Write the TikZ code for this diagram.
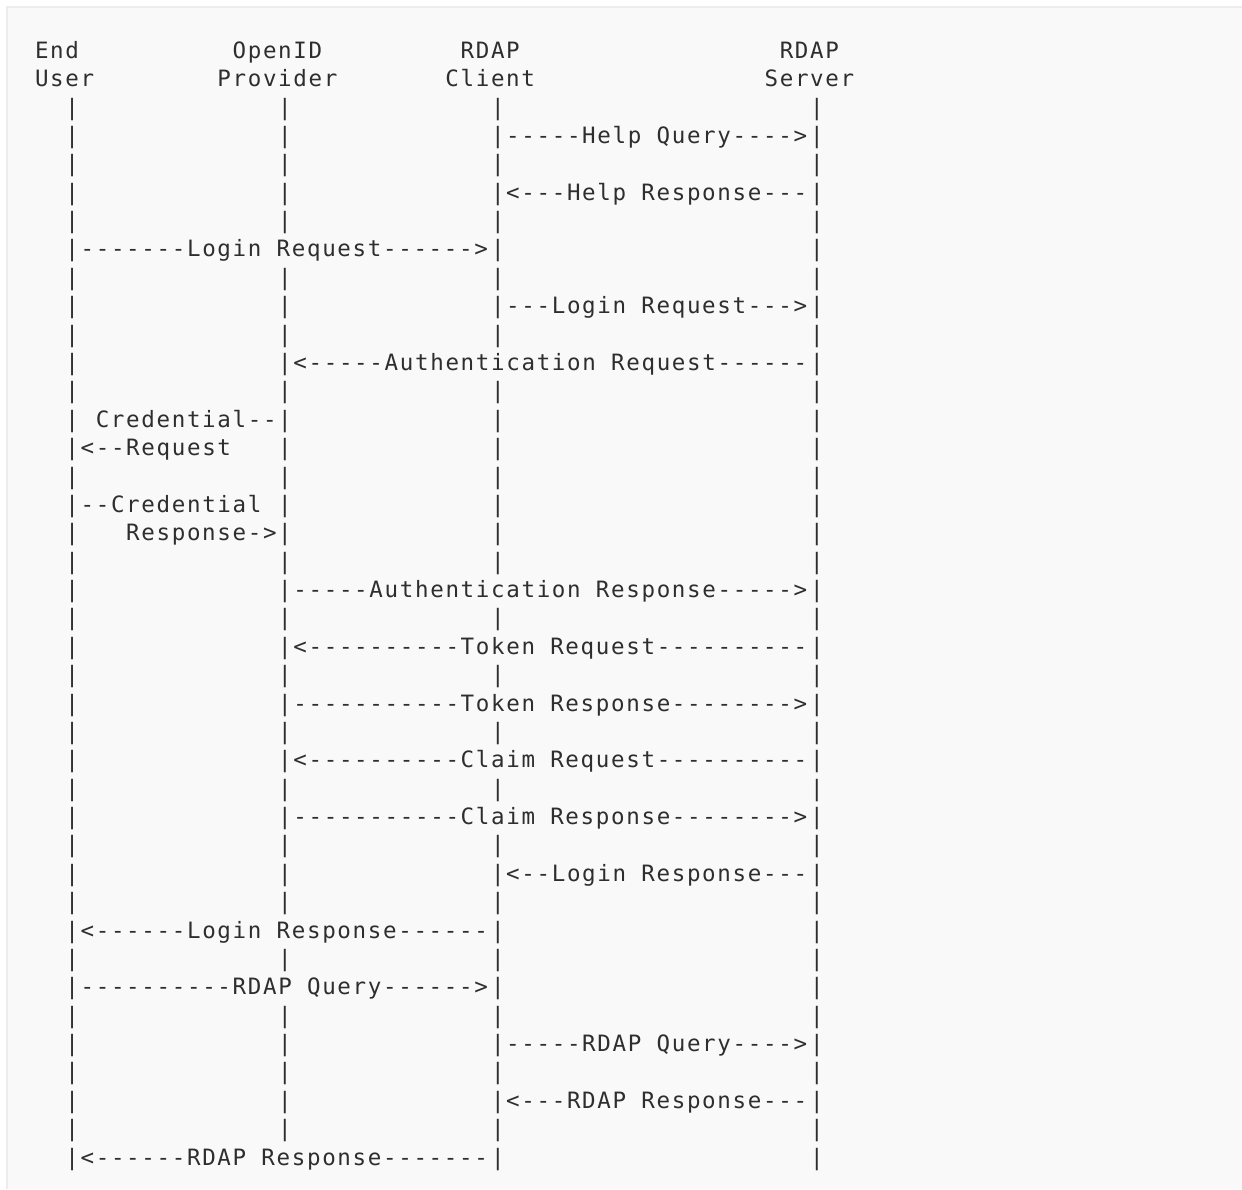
\documentclass[tikz,border=0pt]{standalone}
\usepackage{fontspec}
\setmonofont{DejaVu Sans Mono}[LetterSpace=7.4]

\definecolor{rfcbg}{HTML}{F9F9F9}
\definecolor{rfcedge}{HTML}{ECECEC}
\definecolor{rfcink}{HTML}{2E2E2E}

\newcommand{\rfcfont}{\ttfamily\fontsize{16.875pt}{20pt}\selectfont\fontdimen2\font=11.4pt\fontdimen3\font=0pt\fontdimen4\font=0pt}
% column / row of the ascii grid, in px
\newcommand{\cell}[2]{{19.8+15.2*#1},{58.3+28.38*#2}}

\begin{document}
\begin{tikzpicture}[x=0.75pt,y=-0.75pt,
  txt/.style={anchor=base west,inner sep=0pt,outer sep=0pt,text=rfcink,font=\rfcfont}]

\fill[white] (0,0) rectangle (1242,1189);
\fill[rfcedge] (6,6) rectangle (1242,1189);
\fill[rfcbg] (8,8) rectangle (1242,1189);
\useasboundingbox (0,0) rectangle (1242,1189);

% headers
\node[txt] (eu) at (\cell{1}{0}) {End};
\node[txt] (eu') at (\cell{1}{1}) {User};
\node[txt] (op) at (\cell{14}{0}) {OpenID};
\node[txt] (op') at (\cell{13}{1}) {Provider};
\node[txt] (cl) at (\cell{29}{0}) {RDAP};
\node[txt] (cl') at (\cell{28}{1}) {Client};
\node[txt] (sv) at (\cell{50}{0}) {RDAP};
\node[txt] (sv') at (\cell{49}{1}) {Server};

% life lines
\foreach \r in {2,...,39}
  \node[txt] (eu\r) at (\cell{3}{\r}) {|};
\foreach \r in {2,3,4,5,6,8,9,...,30,32,34,35,36,37,38}
  \node[txt] (op\r) at (\cell{17}{\r}) {|};
\foreach \r in {2,...,10,12,13,...,18,20,22,24,26,28,29,...,39}
  \node[txt] (cl\r) at (\cell{31}{\r}) {|};
\foreach \r in {2,...,39}
  \node[txt] (sv\r) at (\cell{52}{\r}) {|};

% messages
\node[txt] (helpq) at (\cell{32}{3}) {-----Help Query---->};
\node[txt] (helpr) at (\cell{32}{5}) {<---Help Response---};
\node[txt] (loginq1) at (\cell{4}{7}) {-------Login Request------>};
\node[txt] (loginq2) at (\cell{32}{9}) {---Login Request--->};
\node[txt] (authq) at (\cell{18}{11}) {<-----Authentication Request------};
\node[txt] (credq1) at (\cell{5}{13}) {Credential--};
\node[txt] (credq2) at (\cell{4}{14}) {<--Request};
\node[txt] (credr1) at (\cell{4}{16}) {--Credential};
\node[txt] (credr2) at (\cell{7}{17}) {Response->};
\node[txt] (authr) at (\cell{18}{19}) {-----Authentication Response----->};
\node[txt] (tokq) at (\cell{18}{21}) {<----------Token Request----------};
\node[txt] (tokr) at (\cell{18}{23}) {-----------Token Response-------->};
\node[txt] (claimq) at (\cell{18}{25}) {<----------Claim Request----------};
\node[txt] (claimr) at (\cell{18}{27}) {-----------Claim Response-------->};
\node[txt] (loginr1) at (\cell{32}{29}) {<--Login Response---};
\node[txt] (loginr2) at (\cell{4}{31}) {<------Login Response------};
\node[txt] (rdapq1) at (\cell{4}{33}) {----------RDAP Query------>};
\node[txt] (rdapq2) at (\cell{32}{35}) {-----RDAP Query---->};
\node[txt] (rdapr1) at (\cell{32}{37}) {<---RDAP Response---};
\node[txt] (rdapr2) at (\cell{4}{39}) {<------RDAP Response-------};
\end{tikzpicture}
\end{document}
